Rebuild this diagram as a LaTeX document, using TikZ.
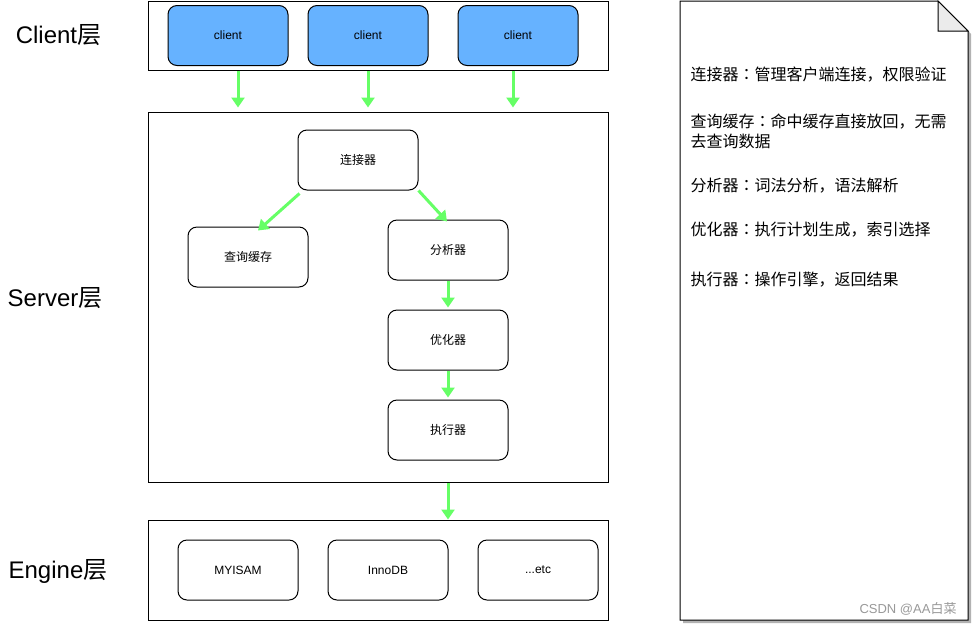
\documentclass[tikz,border=0pt]{standalone}
\usepackage{fontspec}
\setmainfont{Liberation Sans}
\newfontfamily\cjk{Noto Sans CJK SC}
\newfontfamily\cjktc{Noto Sans CJK TC}
\usetikzlibrary{arrows.meta}
\definecolor{cliblue}{HTML}{66B2FF}
\definecolor{flowgreen}{HTML}{66FF66}
\newcommand{\notecolon}{{\cjktc ：}}

\begin{document}
\begin{tikzpicture}[x=1pt,y=-1pt,line width=1pt,
    box/.style={draw,rounded corners=9pt,minimum width=120pt,minimum height=60pt,
      inner sep=0pt,font=\fontsize{12}{14}\selectfont},
    clibox/.style={box,fill=cliblue},
    layer/.style={draw,minimum width=460pt,inner sep=0pt},
    layertext/.style={font=\fontsize{24}{28}\selectfont},
    notetext/.style={anchor=west,inner sep=0pt,align=left,
      font=\fontsize{16}{20}\selectfont\cjk},
    flow/.style={draw=flowgreen,line width=3pt,-{Triangle[width=13pt,length=10pt]}}]
    \useasboundingbox (0,0) rectangle (972,625);

    % Layers
    \node[layer,minimum height=69pt] (clilayer) at (378,35.5) {};
    \node[layer,minimum height=370pt] (srvlayer) at (378,297) {};
    \node[layer,minimum height=100pt] (englayer) at (378,570) {};

    \node[layertext] (clilabel) at (58.5,35) {Client{\cjk 层}};
    \node[layertext] (srvlabel) at (55,298) {Server{\cjk 层}};
    \node[layertext] (englabel) at (58,571) {Engine{\cjk 层}};

    %% Client
    \node[clibox] (cli1) at (228,35.5) {client};
    \node[clibox] (cli2) at (368,35.5) {client};
    \node[clibox] (cli3) at (518,35.5) {client};

    %% Server
    \node[box] (conn) at (358,160) {\cjk 连接器};
    \node[box] (cache) at (248,257) {\cjk 查询缓存};
    \node[box] (parser) at (448,250) {\cjk 分析器};
    \node[box] (optim) at (448,340) {\cjk 优化器};
    \node[box] (exec) at (448,430) {\cjk 执行器};

    %% Engine
    \node[box] (myisam) at (238,570) {MYISAM};
    \node[box] (innodb) at (388,570) {InnoDB};
    \node[box] (etc) at (538,570) {...etc};

    % Arrows
    \draw[flow,shorten >=4pt] ([xshift=10pt]cli1.south |- clilayer.south) -- ([xshift=10pt]cli1.south |- srvlayer.north);
    \draw[flow,shorten >=4pt] (cli2.south |- clilayer.south) -- (cli2.south |- srvlayer.north);
    \draw[flow,shorten >=4pt] ([xshift=-5pt]cli3.south |- clilayer.south) -- ([xshift=-5pt]cli3.south |- srvlayer.north);
    \draw[flow] ([shift={(2pt,-3pt)}]conn.south west) -- ([shift={(10pt,-4pt)}]cache.north);
    \draw[flow] (conn.south east) -- ([shift={(-1pt,-2pt)}]parser.north);
    \draw[flow,shorten >=2pt] (parser) -- (optim);
    \draw[flow,shorten >=2pt] (optim) -- (exec);
    \draw[flow] (exec.south |- srvlayer.south) -- (exec.south |- englayer.north);

    % Note
    \fill[black!30] (683,4) -- (941,4) -- (971,34) -- (971,623) -- (683,623) -- cycle;
    \draw[fill=white] (680,1) -- (938,1) -- (968,31) -- (968,620) -- (680,620) -- cycle;
    \draw[fill=black!8] (938,1) -- (938,31) -- (968,31) -- cycle;

    \node[notetext] (n1) at (690,75) {连接器\notecolon 管理客户端连接，权限验证};
    \node[notetext] (n2) at (690,131) {查询缓存\notecolon 命中缓存直接放回，无需\\去查询数据};
    \node[notetext] (n3) at (690,186) {分析器\notecolon 词法分析，语法解析};
    \node[notetext] (n4) at (690,230) {优化器\notecolon 执行计划生成，索引选择};
    \node[notetext] (n5) at (690,280) {执行器\notecolon 操作引擎，返回结果};

    \node[anchor=east,inner sep=0pt,text=black!40,font=\fontsize{13}{15}\selectfont] (mark) at (957,609) {CSDN @AA{\cjk 白菜}};
\end{tikzpicture}
\end{document}
